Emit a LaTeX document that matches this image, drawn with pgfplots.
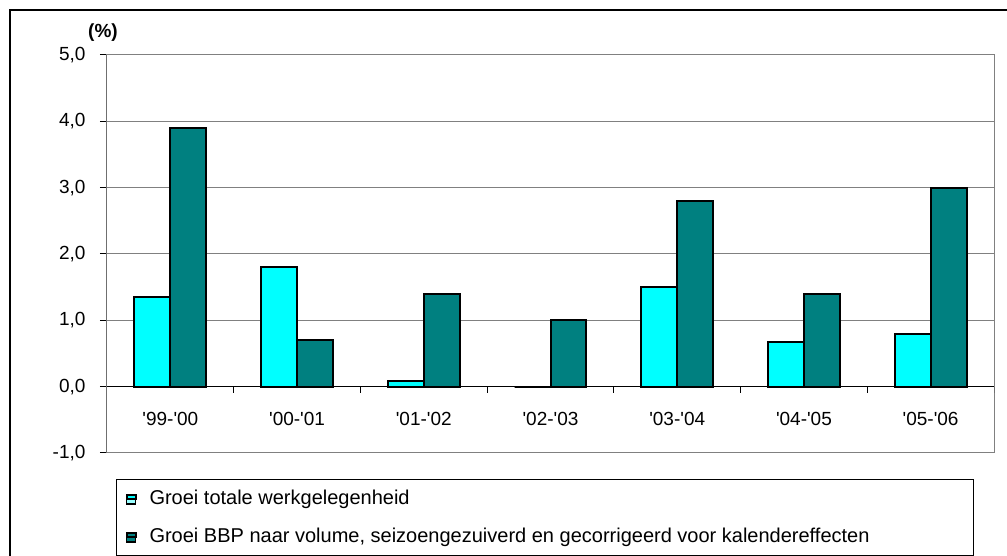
\documentclass[border=0pt]{standalone}
\usepackage{pgfplots}
\pgfplotsset{compat=1.18}
\usepackage{fontspec}
\setmainfont{Liberation Sans}
\newcommand{\q}{\textquotesingle}
\definecolor{lightc}{RGB}{0,255,255}
\definecolor{darkc}{RGB}{0,128,128}
\definecolor{gridc}{RGB}{128,128,128}
\begin{document}
\begin{tikzpicture}[x=1pt,y=1pt]
\useasboundingbox (0,0) rectangle (1007,556);
\draw[line width=1.5pt] (10,-5) -- (10,546) -- (1012,546);
\begin{axis}[
  at={(107pt,103pt)}, anchor=south west,
  scale only axis, width=887pt, height=398pt,
  xmin=-0.5, xmax=6.5, ymin=-1, ymax=5,
  ybar, bar width=0.284,
  xtick={0,...,6},
  xticklabels={\q99-\q00,\q00-\q01,\q01-\q02,\q02-\q03,\q03-\q04,\q04-\q05,\q05-\q06},
  ytick={-1,0,...,5},
  /pgf/number format/.cd, fixed, fixed zerofill, precision=1, use comma, assume math mode=true,
  /pgfplots/.cd,
  tick label style={font=\fontsize{19}{22}\selectfont},
  ymajorgrids, major grid style={gridc, line width=1pt},
  axis line style={gridc, line width=1pt},
  ytick pos=left, tick align=outside, major tick length=7pt,
  ytick style={black, line width=1pt},
  xtick style={draw=none},
  xticklabel style={anchor=center, yshift=41.5pt},
  yticklabel style={xshift=-11pt},
  legend cell align=left,
  legend style={at={(0.01015,-0.0653)}, anchor=north west, draw=black, line width=1pt,
    inner xsep=9pt, inner ysep=11pt, /tikz/row sep=21.5pt, /tikz/column sep=13pt,
    font=\fontsize{20}{24}\selectfont,
    nodes={inner sep=0pt, text height=14pt, text depth=2.5pt}},
]
\addplot[fill=lightc, draw=black, line width=2pt, bar shift=-0.142,
  legend image code/.code={
    \draw[fill=lightc!40,draw=black,line width=1.5pt] (0pt,-5.2pt) rectangle (9pt,3.8pt);
    \pgfresetboundingbox \path (0pt,-0.5pt) rectangle (9pt,3.8pt);}]
  coordinates {(0,1.35) (1,1.8) (2,0.08) (3,0) (4,1.5) (5,0.67) (6,0.8)};
\addlegendentry{\makebox[815pt][l]{Groei totale werkgelegenheid}}
\addplot[fill=darkc, draw=black, line width=2pt, bar shift=0.142,
  legend image code/.code={
    \draw[fill=darkc,draw=black,line width=1.5pt] (0pt,-5.2pt) rectangle (9pt,3.8pt);
    \pgfresetboundingbox \path (0pt,-0.5pt) rectangle (9pt,3.8pt);}]
  coordinates {(0,3.9) (1,0.7) (2,1.4) (3,1.0) (4,2.8) (5,1.4) (6,3.0)};
\addlegendentry{\makebox[815pt][l]{Groei BBP naar volume, seizoengezuiverd en gecorrigeerd voor kalendereffecten}}
\draw[black, line width=1pt] (axis cs:-0.5,0) -- (axis cs:6.5,0);
\draw[black, line width=1pt] (axis cs:-0.5,-1) -- (axis cs:-0.5,5);
\pgfplotsinvokeforeach{0.5,1.5,2.5,3.5,4.5,5.5,6.5}{
  \draw[black, line width=1pt] (axis cs:#1,0) -- ++(0pt,-6pt);
}
\end{axis}
\node[font=\bfseries\fontsize{19}{22}\selectfont] at (103,523.3) {(\%)};
\end{tikzpicture}
\end{document}
